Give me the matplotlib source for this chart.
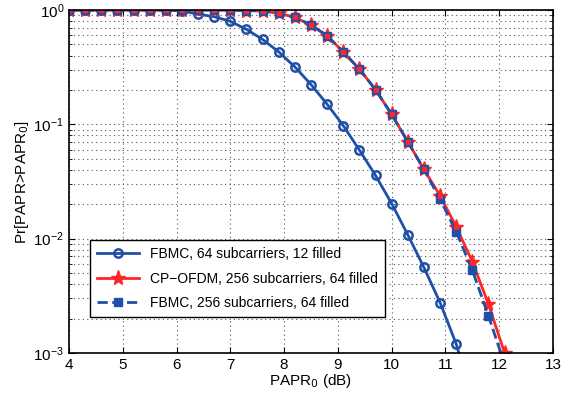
import numpy as np
import matplotlib
matplotlib.use("Agg")
from matplotlib import pyplot as plt

plt.rcParams['font.family'] = ['Liberation Sans', 'DejaVu Sans']

# PAPR0 grid (dB)
papr = [4.0, 4.3, 4.6, 4.9, 5.2, 5.5, 5.8, 6.1, 6.4, 6.7, 7.0, 7.3, 7.6, 7.9,
        8.2, 8.5, 8.8, 9.1, 9.4, 9.7, 10.0, 10.3, 10.6, 10.9, 11.2, 11.5, 11.8, 12.1]

fbmc64 = [1.0, 1.0, 1.0, 1.0, 1.0, 1.0, 1.0, 0.98, 0.92, 0.874, 0.796, 0.677, 0.553, 0.43,
          0.318, 0.223, 0.150, 0.0974, 0.0596, 0.0357, 0.0203, 0.0108, 0.0056, 0.00276,
          0.0012, 0.0004, 0.0001, 0.00003]

ofdm256 = [1.0, 1.0, 1.0, 1.0, 1.0, 1.0, 1.0, 1.0, 1.0, 1.0, 1.0, 0.99, 0.98, 0.935,
           0.863, 0.739, 0.595, 0.43, 0.304, 0.201, 0.122, 0.0705, 0.0403, 0.0238,
           0.0127, 0.0063, 0.00267, 0.001]

fbmc256 = [1.0, 1.0, 1.0, 1.0, 1.0, 1.0, 1.0, 1.0, 1.0, 1.0, 1.0, 0.99, 0.98, 0.935,
           0.863, 0.739, 0.595, 0.43, 0.304, 0.201, 0.122, 0.0705, 0.0403, 0.0221,
           0.0115, 0.0053, 0.00211, 0.0008]

blue = '#1f50a8'
red = '#ff2626'

fig = plt.figure(figsize=(5.62, 3.94), dpi=100)
ax = fig.add_axes([0.1228, 0.104, 0.8612, 0.8706])

ax.semilogy(papr, fbmc64, '-o', color=blue, lw=2, ms=6, mfc='none', mew=1.8,
            label='FBMC, 64 subcarriers, 12 filled')
ax.semilogy(papr, ofdm256, '-*', color=red, lw=2, ms=11, mew=1,
            label='CP\u2212OFDM, 256 subcarriers, 64 filled')
ax.semilogy(papr, fbmc256, '--s', color=blue, lw=2, ms=6, mfc=blue, mec=blue,
            label='FBMC, 256 subcarriers, 64 filled')
# red dots in the squares
ax.semilogy(papr, ofdm256, 's', color=red, ms=2.5, ls='none')

ax.set_xlim(4, 13)
ax.set_ylim(1e-3, 1)
ax.set_xticks(range(4, 14))
ax.set_xlabel('PAPR$_0$ (dB)', fontsize=11, labelpad=0)
ax.set_ylabel('Pr[PAPR>PAPR$_0$]', fontsize=11, labelpad=2)

ax.grid(True, which='major', ls=(0, (1, 3)), color='#555555', lw=0.8)
ax.grid(True, which='minor', axis='y', ls=(0, (1, 3)), color='#555555', lw=0.8)
ax.tick_params(which='both', direction='in', top=True, right=True, labelsize=11)
ax.tick_params(which='major', length=4)
ax.tick_params(which='minor', length=2)
for s in ax.spines.values():
    s.set_linewidth(1.2)

leg = ax.legend(loc='lower left', bbox_to_anchor=(0.0434, 0.105), borderaxespad=0,
                fontsize=10, frameon=True, fancybox=False, edgecolor='black',
                framealpha=1, handlelength=3.0, borderpad=0.5, labelspacing=0.75)
leg.get_frame().set_linewidth(1.0)

fig.savefig('out.png', dpi=100)
